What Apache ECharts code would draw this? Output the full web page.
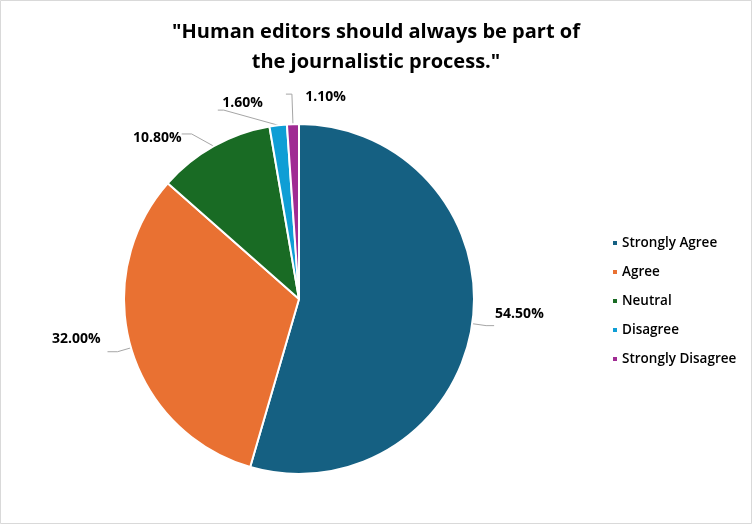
<!DOCTYPE html>
<html><head><meta charset="utf-8">
<script src="https://cdn.jsdelivr.net/npm/echarts@6/dist/echarts.min.js"></script>
<style>html,body{margin:0;padding:0;background:#fff}#c{width:754px;height:527px}</style>
</head><body><div id="c"></div>
<script>
const categories = ['Strongly Agree','Agree','Neutral','Disagree','Strongly Disagree'];
const values = [54.5, 32.0, 10.8, 1.6, 1.1];
const colors = ['#156082','#E97132','#196B24','#0F9ED5','#A02B93'];
const titleText = '"Human editors should always be part of\nthe journalistic process."';

const lineLen = [{length:14,length2:8},{length:14,length2:10},{length:14,length2:10},{length:30,length2:6},{length:30,length2:6}];
const labelShift = [[-4,-12],[-2,-13],[5,4],[50,-7],[65,3]];

const chart = echarts.init(document.getElementById('c'));
chart.setOption({
  animation: false,
  backgroundColor: '#fff',
  color: colors,
  graphic: [{type:'rect', shape:{x:0.5,y:0.5,width:751,height:523}, style:{fill:'none', stroke:'#d9d9d9', lineWidth:1}, silent:true}],
  title: {
    text: titleText, left: 371, top: 12, textAlign: 'center',
    textStyle: {fontFamily:'Open Sans', fontWeight:'bold', fontSize:20, lineHeight:30, color:'#000'}
  },
  legend: {
    orient: 'vertical', left: 606, top: 231,
    itemWidth: 6, itemHeight: 6, itemGap: 15, icon: 'rect',
    data: categories,
    textStyle: {fontFamily:'Open Sans', fontWeight:600, fontSize:13.5, lineHeight:14, color:'#000', padding:[0,0,0,-1]}
  },
  series: [{
    type: 'pie', center: [299, 299], radius: 175, startAngle: 90,
    clockwise: true,
    itemStyle: {borderColor:'#fff', borderWidth:2},
    label: {
      show: true, position: 'outside', formatter: p => p.value.toFixed(2) + '%',
      fontFamily:'Open Sans', fontWeight:'bold', fontSize:14, color:'#000'
    },
    labelLine: {show: true, length: 14, length2: 10, lineStyle: {color:'#a6a6a6', width:1}},
    labelLayout: function (p) {
      const s = labelShift[p.dataIndex];
      return {dx: s[0], dy: s[1]};
    },
    data: categories.map((c,i) => ({name:c, value: values[i], labelLine: lineLen[i]}))
  }]
});
</script></body></html>
